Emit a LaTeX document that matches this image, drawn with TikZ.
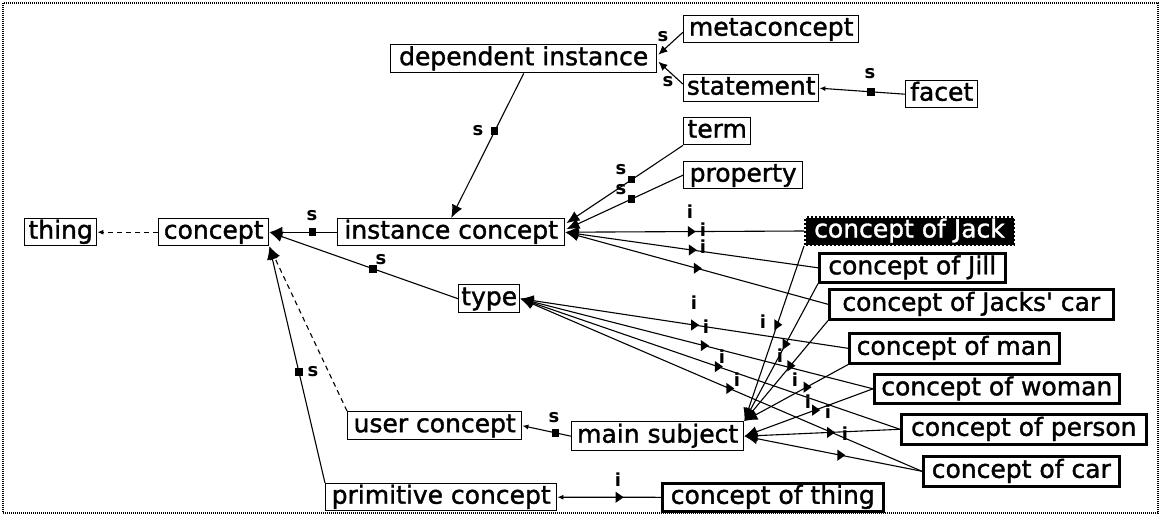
\documentclass[tikz,border=0pt]{standalone}
\usepackage{fontspec}
\setmainfont{DejaVu Sans}[Ligatures=TeXOff]
\newfontfamily\boxfont{DejaVu Sans}[Ligatures=TeXOff, FakeBold=1.4]
\usetikzlibrary{arrows.meta,shapes.geometric,calc}
\begin{document}
\begin{tikzpicture}[x=1pt,y=-1pt,
  box/.style={draw, fill=white, line width=1.4pt, anchor=north west, inner xsep=1pt, inner ysep=0pt,
    font=\boxfont\fontsize{25}{25}\selectfont, text height=19pt, text depth=6pt},
  heavy/.style={box, line width=2.6pt},
  sel/.style={box, fill=black, text=white, draw=black, line width=3pt, dash pattern=on 2pt off 2pt},
  link/.style={line width=1.1pt},
  dashlink/.style={link, dash pattern=on 5pt off 4pt},
  arrbig/.style={-{Latex[length=13pt,width=11pt]}},
  arrmid/.style={-{Latex[length=9pt,width=8pt]}},
  arrsmall/.style={-{Latex[length=6pt,width=5pt]}},
  sq/.style={fill, inner sep=0pt, minimum size=7.5pt},
  tri/.style={isosceles triangle, isosceles triangle apex angle=70, fill, inner sep=0pt, minimum size=8pt},
  lb/.style={font=\fontsize{18}{18}\selectfont\bfseries, inner sep=0pt},
]
\useasboundingbox (0,0) rectangle (1161,516);
\draw[line width=2pt, dash pattern=on 1pt off 1pt] (3,3) rectangle (1158,513);

% concept boxes
\node[box, minimum width=72pt,  minimum height=27pt] (thing)  at (24,218)  {thing};
\node[box, minimum width=110pt, minimum height=27pt] (concept) at (158,218) {concept};
\node[box, minimum width=227pt, minimum height=27pt] (ic)     at (337,218) {instance concept};
\node[box, minimum width=266pt, minimum height=28pt] (dep)    at (390,44)  {dependent instance};
\node[box, minimum width=175pt, minimum height=27pt] (meta)   at (683,15)  {metaconcept};
\node[box, minimum width=135pt, minimum height=27pt] (stmt)   at (683,74)  {statement};
\node[box, minimum width=72pt,  minimum height=27pt] (facet)  at (905,80)  {facet};
\node[box, minimum width=67pt,  minimum height=27pt] (term)   at (683,117) {term};
\node[box, minimum width=119pt, minimum height=27pt] (prop)   at (683,161) {property};
\node[sel, minimum width=208pt, minimum height=27pt] (jack)   at (804,216) {concept of Jack};
\node[heavy, minimum width=186pt, minimum height=29pt] (jill) at (818,252) {concept of Jill};
\node[heavy, minimum width=284pt, minimum height=30pt] (jcar) at (828,288) {concept of Jacks' car};
\node[box, minimum width=61pt,  minimum height=28pt] (type)   at (458,284) {type};
\node[heavy, minimum width=210pt, minimum height=30pt] (man)   at (848,332) {concept of man};
\node[heavy, minimum width=245pt, minimum height=29pt] (woman) at (873,373) {concept of woman};
\node[heavy, minimum width=245pt, minimum height=30pt] (person) at (900,413) {concept of person};
\node[heavy, minimum width=196pt, minimum height=30pt] (car)   at (922,455) {concept of car};
\node[box, minimum width=174pt, minimum height=28pt] (uc)     at (347,411) {user concept};
\node[box, minimum width=172pt, minimum height=29pt] (ms)     at (571,421) {main subject};
\node[box, minimum width=231pt, minimum height=27pt] (prim)   at (325,483) {primitive concept};
\node[heavy, minimum width=221pt, minimum height=28pt] (cthing) at (661,482) {concept of thing};

% subclass links (square markers)
\draw[dashlink, arrsmall] (concept.west) -- (thing.east);
\draw[link, arrbig] (ic.west) -- node[sq, pos=.36] (q1) {} (concept.east);
\draw[link, arrbig] (type.west) -- node[sq, pos=.45] (q2) {} (concept.east);
\draw[link, arrbig] (prim.north west) -- node[sq, pos=.47] (q3) {} (concept.south east);
\draw[dashlink, arrbig] (uc.north west) -- (concept.south east);
\draw[link, arrbig] (dep.south) -- node[sq, pos=.4] (q4) {} (ic.north);
\draw[link, arrmid] ($(meta.west)+(0,3)$) -- ($(dep.east)+(1,-4)$);
\draw[link, arrmid] ($(stmt.west)+(0,-4)$) -- ($(dep.east)+(1,3)$);
\draw[link, arrsmall] (facet.west) -- node[sq, pos=.4] (q5) {} (stmt.east);
\draw[link, arrbig] (term.south west) -- node[sq, pos=.44] (q6) {} ($(ic.east)+(1,-9)$);
\draw[link, arrbig] (prop.west) -- node[sq, pos=.44] (q7) {} ($(ic.east)+(1,-3)$);
\draw[link, arrsmall] (ms.west) -- node[sq, pos=.32] (q8) {} (uc.east);

% instance links (triangle markers)
\draw[link, arrbig] (jack.west) -- node[tri, pos=.475] (t1) {} (ic.east);
\draw[link, arrbig] (jill.west) -- node[tri, pos=.5] (t2) {} (ic.east);
\draw[link, arrbig] (jcar.west) -- node[tri, pos=.5] (t3) {} (ic.east);

\draw[link, arrbig] (man.west) -- node[tri, pos=.47] (t4) {} (type.east);
\draw[link, arrbig] (woman.west) -- node[tri, pos=.48] (t5) {} (type.east);
\draw[link, arrbig] (person.west) -- node[tri, pos=.48] (t6) {} (type.east);
\draw[link, arrbig] (car.west) -- node[tri, pos=.48] (t7) {} (type.east);

\draw[link, arrbig] (jack.south west) -- node[tri, pos=.45] (t8) {} (ms.north east);
\draw[link, arrbig] (jill.south west) -- node[tri, pos=.44] (t9) {} (ms.north east);
\draw[link, arrbig] (jcar.south west) -- node[tri, pos=.45] (t10) {} (ms.north east);
\draw[link, arrbig] (man.south west) -- node[tri, pos=.4] (t11) {} (ms.north east);

\draw[link, arrbig] (woman.west) -- node[tri, pos=.45] (t12) {} (ms.east);
\draw[link, arrbig] (person.west) -- node[tri, pos=.45] (t13) {} (ms.east);
\draw[link, arrbig] (car.west) -- node[tri, pos=.46] (t14) {} (ms.east);

\draw[link, arrsmall] (cthing.west) -- node[tri, pos=.41] (t15) {} (prim.east);

% link labels
\node[lb] (s1)  at (312,216) {s};
\node[lb] (s2)  at (381,260) {s};
\node[lb] (s3)  at (313,372) {s};
\node[lb] (s4)  at (478,131) {s};
\node[lb] (s5)  at (663,37)  {s};
\node[lb] (s6)  at (668,82)  {s};
\node[lb] (s7)  at (870,74)  {s};
\node[lb] (s8)  at (621,170) {s};
\node[lb] (s9)  at (621,190) {s};
\node[lb] (s10) at (554,418) {s};

\node[lb] (i1)  at (690,212) {i};
\node[lb] (i2)  at (703,230) {i};
\node[lb] (i3)  at (703,247) {i};
\node[lb] (i4)  at (694,303) {i};
\node[lb] (i5)  at (706,327) {i};
\node[lb] (i6)  at (722,357) {i};
\node[lb] (i7)  at (737,380) {i};
\node[lb] (i8)  at (763,322) {i};
\node[lb] (i9)  at (780,356) {i};
\node[lb] (i10) at (795,380) {i};
\node[lb] (i11) at (808,402) {i};
\node[lb] (i12) at (828,412) {i};
\node[lb] (i13) at (845,434) {i};
\node[lb] (i14) at (618,480) {i};
\end{tikzpicture}
\end{document}
